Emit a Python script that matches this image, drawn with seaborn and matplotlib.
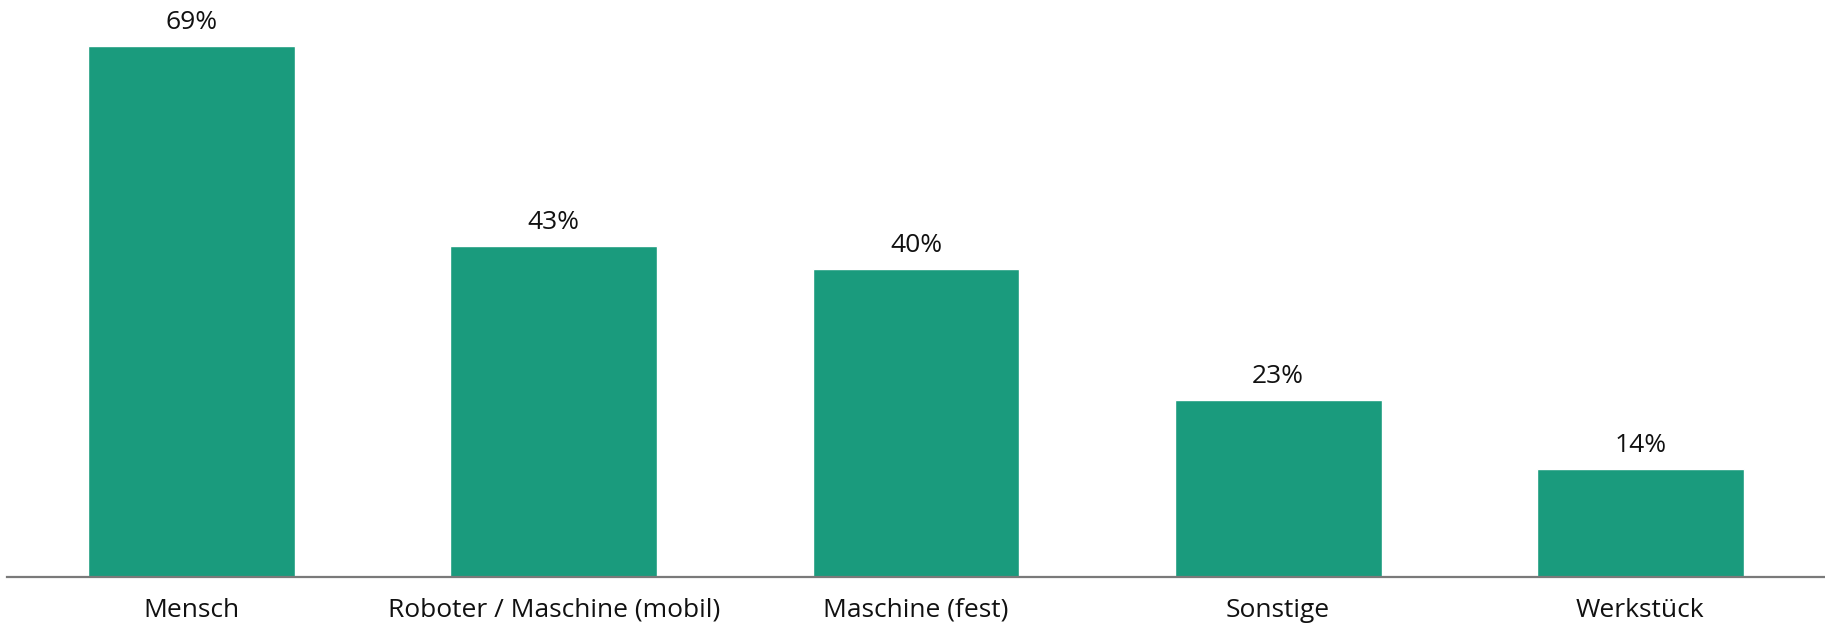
import matplotlib
matplotlib.use("Agg")
import matplotlib.pyplot as plt
import seaborn as sns
import pandas as pd

# Chart data
categories = ["Mensch", "Roboter / Maschine (mobil)", "Maschine (fest)", "Sonstige", "Werkstück"]
shares = [69, 43, 40, 23, 14]

bar_color = "#1A9B7D"

sns.set_theme(style="white")
plt.rcParams['font.family'] = ['Open Sans', 'DejaVu Sans']

df = pd.DataFrame({"Kategorie": categories, "Anteil": shares})

fig = plt.figure(figsize=(18.25, 6.25), dpi=100)
ax = fig.add_axes([7 / 1825, 48 / 625, 1 - 7 / 1825, 577 / 625])

sns.barplot(data=df, x="Kategorie", y="Anteil", color=bar_color, width=0.571,
            saturation=1, ax=ax)

# Value labels above bars
for i, v in enumerate(shares):
    ax.annotate(f"{v}%", xy=(i, v), xytext=(0, 8), textcoords="offset points",
                ha="center", va="bottom", fontsize=19, color="#111111")

ax.set_xlim(-0.51, 4.51)
ax.set_ylim(0, 75)
ax.set_xlabel("")
ax.set_ylabel("")
ax.set_yticks([])
ax.tick_params(axis="x", length=0, pad=15, labelsize=19, labelcolor="#111111")

for side in ["top", "right", "left"]:
    ax.spines[side].set_visible(False)
ax.spines["bottom"].set_color("#7a7a7a")
ax.spines["bottom"].set_linewidth(1.6)

fig.savefig("out.png", dpi=100)
